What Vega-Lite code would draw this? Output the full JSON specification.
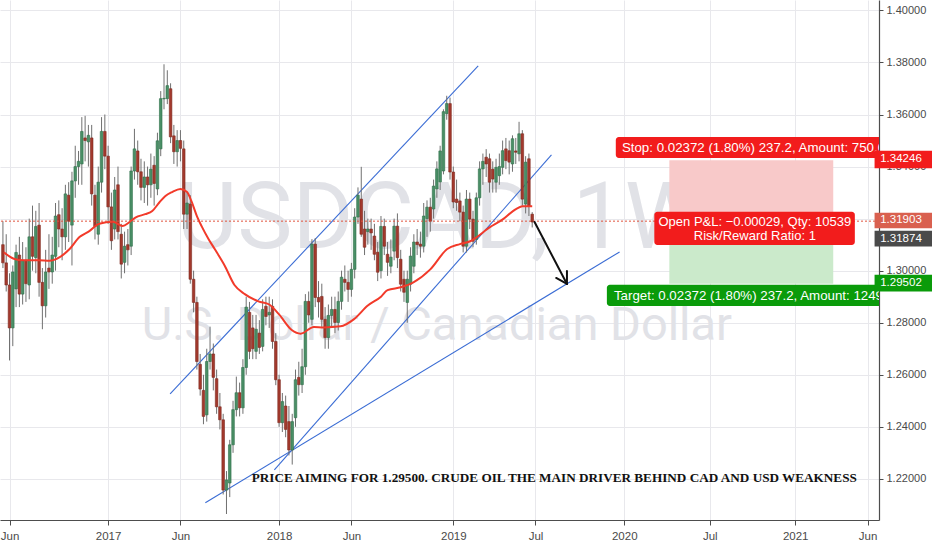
{
"$schema":"https://vega.github.io/schema/vega-lite/v6.json",
"width":879,"height":520,"autosize":"none",
"padding":{"left":0,"top":0,"right":53,"bottom":30},
"background":"white",
"config":{"view":{"stroke":null}},
"datasets":{
"candles":[
{"d":"2016-05-23","o":1.3100,"h":1.3190,"l":1.3010,"c":1.3030},
{"d":"2016-05-30","o":1.3030,"h":1.3140,"l":1.2920,"c":1.2945},
{"d":"2016-06-06","o":1.2945,"h":1.2990,"l":1.2655,"c":1.2780},
{"d":"2016-06-13","o":1.2780,"h":1.3020,"l":1.2710,"c":1.2995},
{"d":"2016-06-20","o":1.2930,"h":1.3100,"l":1.2860,"c":1.3070},
{"d":"2016-06-27","o":1.3060,"h":1.3130,"l":1.2860,"c":1.2910},
{"d":"2016-07-04","o":1.2910,"h":1.3110,"l":1.2870,"c":1.3040},
{"d":"2016-07-11","o":1.3040,"h":1.3090,"l":1.2880,"c":1.2950},
{"d":"2016-07-18","o":1.2945,"h":1.3200,"l":1.2890,"c":1.3130},
{"d":"2016-07-25","o":1.3130,"h":1.3250,"l":1.3000,"c":1.3055},
{"d":"2016-08-01","o":1.3050,"h":1.3230,"l":1.2990,"c":1.3170},
{"d":"2016-08-08","o":1.3175,"h":1.3260,"l":1.2900,"c":1.2955},
{"d":"2016-08-15","o":1.2955,"h":1.3010,"l":1.2775,"c":1.2865},
{"d":"2016-08-22","o":1.2865,"h":1.3080,"l":1.2820,"c":1.2995},
{"d":"2016-08-29","o":1.3010,"h":1.3140,"l":1.2930,"c":1.2995},
{"d":"2016-09-05","o":1.2995,"h":1.3130,"l":1.2950,"c":1.3060},
{"d":"2016-09-12","o":1.3055,"h":1.3260,"l":1.3000,"c":1.3210},
{"d":"2016-09-19","o":1.3215,"h":1.3270,"l":1.3090,"c":1.3160},
{"d":"2016-09-26","o":1.3160,"h":1.3240,"l":1.3040,"c":1.3130},
{"d":"2016-10-03","o":1.3130,"h":1.3330,"l":1.3080,"c":1.3295},
{"d":"2016-10-10","o":1.3290,"h":1.3340,"l":1.3110,"c":1.3190},
{"d":"2016-10-17","o":1.3175,"h":1.3380,"l":1.3020,"c":1.3345},
{"d":"2016-10-24","o":1.3345,"h":1.3480,"l":1.3280,"c":1.3400},
{"d":"2016-10-31","o":1.3400,"h":1.3460,"l":1.3330,"c":1.3420},
{"d":"2016-11-07","o":1.3410,"h":1.3590,"l":1.3330,"c":1.3535},
{"d":"2016-11-14","o":1.3510,"h":1.3595,"l":1.3420,"c":1.3500},
{"d":"2016-11-21","o":1.3495,"h":1.3560,"l":1.3400,"c":1.3520},
{"d":"2016-11-28","o":1.3510,"h":1.3560,"l":1.3250,"c":1.3295},
{"d":"2016-12-05","o":1.3290,"h":1.3330,"l":1.3120,"c":1.3170},
{"d":"2016-12-12","o":1.3140,"h":1.3400,"l":1.3100,"c":1.3340},
{"d":"2016-12-19","o":1.3340,"h":1.3590,"l":1.3300,"c":1.3535},
{"d":"2016-12-26","o":1.3535,"h":1.3600,"l":1.3390,"c":1.3440},
{"d":"2017-01-02","o":1.3440,"h":1.3480,"l":1.3180,"c":1.3245},
{"d":"2017-01-09","o":1.3245,"h":1.3300,"l":1.3080,"c":1.3115},
{"d":"2017-01-16","o":1.3160,"h":1.3360,"l":1.3120,"c":1.3310},
{"d":"2017-01-23","o":1.3330,"h":1.3400,"l":1.3120,"c":1.3150},
{"d":"2017-01-30","o":1.3140,"h":1.3180,"l":1.2970,"c":1.3025},
{"d":"2017-02-06","o":1.3032,"h":1.3150,"l":1.2990,"c":1.3094},
{"d":"2017-02-13","o":1.3100,"h":1.3160,"l":1.3020,"c":1.3080},
{"d":"2017-02-20","o":1.3094,"h":1.3400,"l":1.3060,"c":1.3383},
{"d":"2017-02-27","o":1.3383,"h":1.3545,"l":1.3350,"c":1.3468},
{"d":"2017-03-06","o":1.3460,"h":1.3500,"l":1.3330,"c":1.3380},
{"d":"2017-03-13","o":1.3380,"h":1.3430,"l":1.3270,"c":1.3320},
{"d":"2017-03-20","o":1.3320,"h":1.3420,"l":1.3260,"c":1.3360},
{"d":"2017-03-27","o":1.3360,"h":1.3400,"l":1.3250,"c":1.3330},
{"d":"2017-04-03","o":1.3330,"h":1.3450,"l":1.3280,"c":1.3390},
{"d":"2017-04-10","o":1.3405,"h":1.3440,"l":1.3250,"c":1.3335},
{"d":"2017-04-17","o":1.3314,"h":1.3530,"l":1.3290,"c":1.3499},
{"d":"2017-04-24","o":1.3468,"h":1.3690,"l":1.3440,"c":1.3661},
{"d":"2017-05-01","o":1.3660,"h":1.3793,"l":1.3620,"c":1.3662},
{"d":"2017-05-08","o":1.3661,"h":1.3770,"l":1.3640,"c":1.3711},
{"d":"2017-05-15","o":1.3699,"h":1.3720,"l":1.3490,"c":1.3514},
{"d":"2017-05-22","o":1.3518,"h":1.3560,"l":1.3410,"c":1.3457},
{"d":"2017-05-29","o":1.3457,"h":1.3540,"l":1.3400,"c":1.3500},
{"d":"2017-06-05","o":1.3500,"h":1.3540,"l":1.3420,"c":1.3470},
{"d":"2017-06-12","o":1.3468,"h":1.3500,"l":1.3160,"c":1.3217},
{"d":"2017-06-19","o":1.3217,"h":1.3300,"l":1.3160,"c":1.3260},
{"d":"2017-06-26","o":1.3256,"h":1.3290,"l":1.2950,"c":1.2967},
{"d":"2017-07-03","o":1.2967,"h":1.3000,"l":1.2840,"c":1.2878},
{"d":"2017-07-10","o":1.2878,"h":1.2900,"l":1.2620,"c":1.2651},
{"d":"2017-07-17","o":1.2640,"h":1.2680,"l":1.2520,"c":1.2545},
{"d":"2017-07-24","o":1.2540,"h":1.2600,"l":1.2410,"c":1.2440},
{"d":"2017-07-31","o":1.2446,"h":1.2700,"l":1.2420,"c":1.2651},
{"d":"2017-08-07","o":1.2651,"h":1.2785,"l":1.2620,"c":1.2680},
{"d":"2017-08-14","o":1.2680,"h":1.2720,"l":1.2540,"c":1.2590},
{"d":"2017-08-21","o":1.2585,"h":1.2620,"l":1.2450,"c":1.2477},
{"d":"2017-08-28","o":1.2477,"h":1.2530,"l":1.2390,"c":1.2427},
{"d":"2017-09-04","o":1.2427,"h":1.2450,"l":1.2140,"c":1.2157},
{"d":"2017-09-11","o":1.2157,"h":1.2230,"l":1.2065,"c":1.2196},
{"d":"2017-09-18","o":1.2184,"h":1.2350,"l":1.2130,"c":1.2331},
{"d":"2017-09-25","o":1.2331,"h":1.2500,"l":1.2300,"c":1.2466},
{"d":"2017-10-02","o":1.2466,"h":1.2593,"l":1.2440,"c":1.2531},
{"d":"2017-10-09","o":1.2531,"h":1.2570,"l":1.2440,"c":1.2473},
{"d":"2017-10-16","o":1.2473,"h":1.2660,"l":1.2450,"c":1.2628},
{"d":"2017-10-23","o":1.2628,"h":1.2900,"l":1.2600,"c":1.2860},
{"d":"2017-10-30","o":1.2840,"h":1.2880,"l":1.2660,"c":1.2690},
{"d":"2017-11-06","o":1.2780,"h":1.2830,"l":1.2660,"c":1.2700},
{"d":"2017-11-13","o":1.2690,"h":1.2830,"l":1.2660,"c":1.2775},
{"d":"2017-11-20","o":1.2760,"h":1.2810,"l":1.2680,"c":1.2705},
{"d":"2017-11-27","o":1.2709,"h":1.2890,"l":1.2690,"c":1.2851},
{"d":"2017-12-04","o":1.2863,"h":1.2900,"l":1.2790,"c":1.2824},
{"d":"2017-12-11","o":1.2830,"h":1.2900,"l":1.2780,"c":1.2840},
{"d":"2017-12-18","o":1.2863,"h":1.2890,"l":1.2700,"c":1.2728},
{"d":"2017-12-25","o":1.2728,"h":1.2760,"l":1.2560,"c":1.2581},
{"d":"2018-01-01","o":1.2581,"h":1.2600,"l":1.2400,"c":1.2416},
{"d":"2018-01-08","o":1.2416,"h":1.2530,"l":1.2380,"c":1.2497},
{"d":"2018-01-15","o":1.2480,"h":1.2520,"l":1.2360,"c":1.2390},
{"d":"2018-01-22","o":1.2420,"h":1.2480,"l":1.2290,"c":1.2311},
{"d":"2018-01-29","o":1.2311,"h":1.2450,"l":1.2255,"c":1.2420},
{"d":"2018-02-05","o":1.2435,"h":1.2620,"l":1.2400,"c":1.2581},
{"d":"2018-02-12","o":1.2590,"h":1.2650,"l":1.2520,"c":1.2562},
{"d":"2018-02-19","o":1.2562,"h":1.2700,"l":1.2530,"c":1.2631},
{"d":"2018-02-26","o":1.2631,"h":1.2910,"l":1.2600,"c":1.2882},
{"d":"2018-03-05","o":1.2882,"h":1.2920,"l":1.2800,"c":1.2830},
{"d":"2018-03-12","o":1.2813,"h":1.3121,"l":1.2790,"c":1.3102},
{"d":"2018-03-19","o":1.3102,"h":1.3125,"l":1.2860,"c":1.2897},
{"d":"2018-03-26","o":1.2897,"h":1.2960,"l":1.2820,"c":1.2880},
{"d":"2018-04-02","o":1.2901,"h":1.2950,"l":1.2780,"c":1.2813},
{"d":"2018-04-09","o":1.2813,"h":1.2860,"l":1.2700,"c":1.2743},
{"d":"2018-04-16","o":1.2743,"h":1.2870,"l":1.2700,"c":1.2828},
{"d":"2018-04-23","o":1.2828,"h":1.2900,"l":1.2780,"c":1.2851},
{"d":"2018-04-30","o":1.2851,"h":1.2900,"l":1.2760,"c":1.2801},
{"d":"2018-05-07","o":1.2801,"h":1.2920,"l":1.2770,"c":1.2882},
{"d":"2018-05-14","o":1.2882,"h":1.3000,"l":1.2850,"c":1.2975},
{"d":"2018-05-21","o":1.2967,"h":1.3020,"l":1.2920,"c":1.2955},
{"d":"2018-05-28","o":1.2955,"h":1.3000,"l":1.2880,"c":1.2928},
{"d":"2018-06-04","o":1.2928,"h":1.3030,"l":1.2900,"c":1.3005},
{"d":"2018-06-11","o":1.3005,"h":1.3240,"l":1.2970,"c":1.3206},
{"d":"2018-06-18","o":1.3206,"h":1.3320,"l":1.3180,"c":1.3290},
{"d":"2018-06-25","o":1.3275,"h":1.3399,"l":1.3130,"c":1.3140},
{"d":"2018-07-02","o":1.3160,"h":1.3230,"l":1.3060,"c":1.3090},
{"d":"2018-07-09","o":1.3150,"h":1.3200,"l":1.3100,"c":1.3160},
{"d":"2018-07-16","o":1.3160,"h":1.3200,"l":1.3080,"c":1.3145},
{"d":"2018-07-23","o":1.3133,"h":1.3180,"l":1.3040,"c":1.3063},
{"d":"2018-07-30","o":1.3071,"h":1.3110,"l":1.2960,"c":1.2994},
{"d":"2018-08-06","o":1.3000,"h":1.3210,"l":1.2970,"c":1.3170},
{"d":"2018-08-13","o":1.3170,"h":1.3200,"l":1.3060,"c":1.3094},
{"d":"2018-08-20","o":1.3063,"h":1.3110,"l":1.2980,"c":1.3032},
{"d":"2018-08-27","o":1.3017,"h":1.3120,"l":1.2990,"c":1.3052},
{"d":"2018-09-03","o":1.3075,"h":1.3200,"l":1.3040,"c":1.3171},
{"d":"2018-09-10","o":1.3171,"h":1.3220,"l":1.3010,"c":1.3050},
{"d":"2018-09-17","o":1.3044,"h":1.3080,"l":1.2920,"c":1.2948},
{"d":"2018-09-24","o":1.2967,"h":1.3000,"l":1.2880,"c":1.2917},
{"d":"2018-10-01","o":1.2878,"h":1.3000,"l":1.2800,"c":1.2967},
{"d":"2018-10-08","o":1.2948,"h":1.3090,"l":1.2920,"c":1.3056},
{"d":"2018-10-15","o":1.3017,"h":1.3140,"l":1.2990,"c":1.3110},
{"d":"2018-10-22","o":1.3110,"h":1.3160,"l":1.3060,"c":1.3100},
{"d":"2018-10-29","o":1.3102,"h":1.3150,"l":1.3050,"c":1.3094},
{"d":"2018-11-05","o":1.3094,"h":1.3260,"l":1.3070,"c":1.3210},
{"d":"2018-11-12","o":1.3200,"h":1.3270,"l":1.3130,"c":1.3244},
{"d":"2018-11-19","o":1.3244,"h":1.3280,"l":1.3150,"c":1.3190},
{"d":"2018-11-26","o":1.3237,"h":1.3350,"l":1.3200,"c":1.3325},
{"d":"2018-12-03","o":1.3314,"h":1.3420,"l":1.3280,"c":1.3391},
{"d":"2018-12-10","o":1.3341,"h":1.3480,"l":1.3310,"c":1.3460},
{"d":"2018-12-17","o":1.3383,"h":1.3620,"l":1.3370,"c":1.3611},
{"d":"2018-12-24","o":1.3603,"h":1.3672,"l":1.3580,"c":1.3642},
{"d":"2018-12-31","o":1.3642,"h":1.3665,"l":1.3350,"c":1.3379},
{"d":"2019-01-07","o":1.3379,"h":1.3400,"l":1.3240,"c":1.3264},
{"d":"2019-01-14","o":1.3275,"h":1.3350,"l":1.3230,"c":1.3262},
{"d":"2019-01-21","o":1.3268,"h":1.3300,"l":1.3190,"c":1.3225},
{"d":"2019-01-28","o":1.3225,"h":1.3250,"l":1.3070,"c":1.3094},
{"d":"2019-02-04","o":1.3094,"h":1.3310,"l":1.3070,"c":1.3275},
{"d":"2019-02-11","o":1.3275,"h":1.3300,"l":1.3160,"c":1.3198},
{"d":"2019-02-18","o":1.3198,"h":1.3230,"l":1.3090,"c":1.3113},
{"d":"2019-02-25","o":1.3120,"h":1.3300,"l":1.3100,"c":1.3280},
{"d":"2019-03-04","o":1.3280,"h":1.3420,"l":1.3250,"c":1.3391},
{"d":"2019-03-11","o":1.3391,"h":1.3450,"l":1.3330,"c":1.3420},
{"d":"2019-03-18","o":1.3436,"h":1.3467,"l":1.3360,"c":1.3410},
{"d":"2019-03-25","o":1.3430,"h":1.3450,"l":1.3300,"c":1.3340},
{"d":"2019-04-01","o":1.3390,"h":1.3420,"l":1.3300,"c":1.3352},
{"d":"2019-04-08","o":1.3340,"h":1.3430,"l":1.3300,"c":1.3397},
{"d":"2019-04-15","o":1.3365,"h":1.3450,"l":1.3330,"c":1.3400},
{"d":"2019-04-22","o":1.3397,"h":1.3500,"l":1.3370,"c":1.3461},
{"d":"2019-04-29","o":1.3468,"h":1.3510,"l":1.3390,"c":1.3423},
{"d":"2019-05-06","o":1.3461,"h":1.3500,"l":1.3370,"c":1.3417},
{"d":"2019-05-13","o":1.3410,"h":1.3520,"l":1.3380,"c":1.3507},
{"d":"2019-05-20","o":1.3460,"h":1.3510,"l":1.3410,"c":1.3455},
{"d":"2019-05-27","o":1.3449,"h":1.3572,"l":1.3420,"c":1.3526},
{"d":"2019-06-03","o":1.3526,"h":1.3540,"l":1.3250,"c":1.3275},
{"d":"2019-06-10","o":1.3256,"h":1.3440,"l":1.3220,"c":1.3417},
{"d":"2019-06-17","o":1.3430,"h":1.3450,"l":1.3210,"c":1.3248},
{"d":"2019-06-24","o":1.3217,"h":1.3225,"l":1.3166,"c":1.3187}
],
"ma":[
{"d":"2016-05-25","v":1.3071},{"d":"2016-06-15","v":1.3046},{"d":"2016-07-06","v":1.3040},{"d":"2016-08-08","v":1.3040},
{"d":"2016-08-30","v":1.3038},{"d":"2016-09-21","v":1.3052},{"d":"2016-10-12","v":1.3083},{"d":"2016-11-02","v":1.3129},
{"d":"2016-11-23","v":1.3152},{"d":"2016-12-14","v":1.3180},{"d":"2017-01-12","v":1.3188},{"d":"2017-02-02","v":1.3172},
{"d":"2017-02-16","v":1.3186},{"d":"2017-03-01","v":1.3204},{"d":"2017-03-22","v":1.3217},{"d":"2017-04-06","v":1.3229},
{"d":"2017-04-21","v":1.3262},{"d":"2017-05-04","v":1.3287},{"d":"2017-05-18","v":1.3302},{"d":"2017-06-05","v":1.3314},
{"d":"2017-06-19","v":1.3302},{"d":"2017-06-29","v":1.3264},{"d":"2017-07-10","v":1.3210},{"d":"2017-07-20","v":1.3171},
{"d":"2017-08-04","v":1.3121},{"d":"2017-08-17","v":1.3083},{"d":"2017-09-07","v":1.3020},{"d":"2017-09-28","v":1.2945},
{"d":"2017-10-20","v":1.2910},{"d":"2017-11-18","v":1.2882},{"d":"2017-12-11","v":1.2870},{"d":"2018-01-01","v":1.2832},
{"d":"2018-01-28","v":1.2772},{"d":"2018-02-16","v":1.2758},{"d":"2018-03-16","v":1.2784},{"d":"2018-04-06","v":1.2782},
{"d":"2018-05-12","v":1.2786},{"d":"2018-06-09","v":1.2813},{"d":"2018-07-09","v":1.2866},{"d":"2018-08-06","v":1.2900},
{"d":"2018-08-20","v":1.2925},{"d":"2018-09-17","v":1.2936},{"d":"2018-10-14","v":1.2955},{"d":"2018-11-19","v":1.3005},
{"d":"2018-12-25","v":1.3083},{"d":"2019-01-21","v":1.3102},{"d":"2019-02-12","v":1.3113},{"d":"2019-03-26","v":1.3167},
{"d":"2019-04-23","v":1.3198},{"d":"2019-05-14","v":1.3229},{"d":"2019-06-04","v":1.3248},{"d":"2019-06-24","v":1.3248}
],
"trend":[
{"x1":"2017-05-14","y1":1.2527,"x2":"2019-03-01","y2":1.3787},
{"x1":"2017-12-22","y1":1.2235,"x2":"2019-08-04","y2":1.3445},
{"x1":"2017-07-28","y1":1.2108,"x2":"2019-12-27","y2":1.3072}
],
"arrow":[
{"x1":"2019-06-29","y1":1.3187,"x2":"2019-09-06","y2":1.2949},
{"x1":"2019-09-06","y1":1.2999,"x2":"2019-09-06","y2":1.2949},
{"x1":"2019-08-14","y1":1.2972,"x2":"2019-09-06","y2":1.2949}
],
"zones":[
{"x1":"2020-04-11","x2":"2021-03-26","y1":1.31903,"y2":1.34246,"kind":"stop"},
{"x1":"2020-04-11","x2":"2021-03-26","y1":1.29502,"y2":1.31903,"kind":"target"}
],
"boxes":[
{"x1":"2019-12-19","x2":"2021-08-01","y1":1.3433,"y2":1.3514,"kind":"stop"},
{"x1":"2020-03-10","x2":"2021-05-11","y1":1.3099,"y2":1.3226,"kind":"pnl"},
{"x1":"2019-11-30","x2":"2021-08-01","y1":1.2864,"y2":1.2946,"kind":"target"}
],
"lefttexts":[
{"d":"2020-01-01","p":1.3473,"t":"Stop: 0.02372 (1.80%) 237.2, Amount: 750.00"},
{"d":"2019-12-15","p":1.2904,"t":"Target: 0.02372 (1.80%) 237.2, Amount: 1249.90"}
],
"pnltexts":[
{"d":"2020-10-10","p":1.3188,"t":"Open P&L: −0.00029, Qty: 10539"},
{"d":"2020-10-10","p":1.3134,"t":"Risk/Reward Ratio: 1"}
],
"tags":[
{"x1":"2021-06-22","x2":"2021-11-01","y1":1.3394,"y2":1.3461,"kind":"stop","d":"2021-07-04","p":1.3428,"t":"1.34246"},
{"x1":"2021-06-22","x2":"2021-11-01","y1":1.3163,"y2":1.3223,"kind":"entry","d":"2021-07-04","p":1.3193,"t":"1.31903"},
{"x1":"2021-06-22","x2":"2021-11-01","y1":1.3093,"y2":1.3153,"kind":"last","d":"2021-07-04","p":1.3122,"t":"1.31874"},
{"x1":"2021-06-22","x2":"2021-11-01","y1":1.2920,"y2":1.2984,"kind":"target","d":"2021-07-04","p":1.2952,"t":"1.29502"}
]
},
"layer":[
{"data":{"values":[{"d":"2018-12-14","p":1.3088,"t":"USDCAD, 1W"}]},
 "mark":{"type":"text","font":"Roboto","fontSize":93,"color":"#e1e2e7","align":"center","baseline":"alphabetic"},
 "encoding":{
  "x":{"field":"d","type":"temporal","title":null,
   "scale":{"type":"utc","domain":[{"year":2016,"month":5,"date":27,"hours":10,"utc":true},{"year":2021,"month":6,"date":20,"hours":19,"utc":true}]},
   "axis":{"title":null,"values":[
     {"year":2016,"month":6,"date":6,"utc":true},{"year":2017,"month":1,"date":2,"utc":true},{"year":2017,"month":6,"date":5,"utc":true},
     {"year":2018,"month":1,"date":1,"utc":true},{"year":2018,"month":6,"date":4,"utc":true},{"year":2019,"month":1,"date":7,"utc":true},
     {"year":2019,"month":7,"date":1,"utc":true},{"year":2020,"month":1,"date":6,"utc":true},{"year":2020,"month":7,"date":6,"utc":true},
     {"year":2021,"month":1,"date":4,"utc":true},{"year":2021,"month":6,"date":7,"utc":true}],
    "labelExpr":"utcFormat(datum.value,'%m')=='01' ? utcFormat(datum.value,'%Y') : utcFormat(datum.value,'%b')",
    "grid":true,"gridColor":"#e8e8ec","gridWidth":1,"domainColor":"#4d4d4d","domainWidth":1.2,"tickColor":"#4d4d4d","tickSize":5,
    "labelColor":"#4a4a4a","labelFont":"Liberation Sans","labelFontSize":11.5,"labelPadding":5,"labelOverlap":false,"labelFlush":false}},
  "y":{"field":"p","type":"quantitative","title":null,
   "scale":{"domain":[1.2042,1.4040],"nice":false,"zero":false},
   "axis":{"title":null,"orient":"right","values":[1.22,1.24,1.26,1.28,1.30,1.32,1.34,1.36,1.38,1.40],"format":".5f",
    "grid":true,"gridColor":"#e8e8ec","gridWidth":1,"domainColor":"#4d4d4d","domainWidth":1.2,"tickColor":"#4d4d4d","tickSize":4,
    "labelColor":"#4a4a4a","labelFont":"Liberation Sans","labelFontSize":11,"labelPadding":3,"labelOverlap":false,"labelFlush":false}},
  "text":{"field":"t"}}},
{"data":{"values":[{"d":"2018-12-03","p":1.2734,"t":"U.S. Dollar / Canadian Dollar"}]},
 "mark":{"type":"text","font":"Roboto","fontSize":47,"color":"#e1e2e7","align":"center","baseline":"alphabetic"},
 "encoding":{"x":{"field":"d","type":"temporal","title":null},"y":{"field":"p","type":"quantitative","title":null},"text":{"field":"t"}}},
{"data":{"name":"zones"},
 "mark":{"type":"rect","clip":true},
 "encoding":{"x":{"field":"x1","type":"temporal","title":null},"x2":{"field":"x2"},"y":{"field":"y1","type":"quantitative","title":null},"y2":{"field":"y2"},
  "color":{"condition":{"test":"datum.kind=='stop'","value":"#f8c9c9"},"value":"#cbeacb"}}},
{"data":{"name":"trend"},
 "mark":{"type":"rule","color":"#3a6cd4","strokeWidth":1.1,"clip":true},
 "encoding":{"x":{"field":"x1","type":"temporal","title":null},"x2":{"field":"x2"},"y":{"field":"y1","type":"quantitative","title":null},"y2":{"field":"y2"}}},
{"data":{"name":"candles"},
 "mark":{"type":"rule","color":"#707070","strokeWidth":1,"clip":true},
 "encoding":{"x":{"field":"d","type":"temporal","title":null},"y":{"field":"l","type":"quantitative","title":null},"y2":{"field":"h"}}},
{"data":{"name":"candles"},
 "mark":{"type":"bar","size":2.6,"strokeWidth":0.6,"clip":true},
 "encoding":{"x":{"field":"d","type":"temporal","title":null},"y":{"field":"o","type":"quantitative","title":null},"y2":{"field":"c"},
  "color":{"condition":{"test":"datum.c >= datum.o","value":"#4a8f66"},"value":"#a3392d"},
  "stroke":{"condition":{"test":"datum.c >= datum.o","value":"#2f6e4a"},"value":"#7d2a20"}}},
{"data":{"name":"ma"},
 "mark":{"type":"line","color":"#f23a2a","strokeWidth":2,"interpolate":"monotone","clip":true},
 "encoding":{"x":{"field":"d","type":"temporal","title":null},"y":{"field":"v","type":"quantitative","title":null}}},
{"data":{"values":[{"p":1.31903}]},
 "mark":{"type":"rule","color":"#e0513c","strokeDash":[2,2],"strokeWidth":1},
 "encoding":{"y":{"field":"p","type":"quantitative","title":null}}},
{"data":{"name":"arrow"},
 "mark":{"type":"rule","color":"#111111","strokeWidth":2,"strokeCap":"round","clip":true},
 "encoding":{"x":{"field":"x1","type":"temporal","title":null},"x2":{"field":"x2"},"y":{"field":"y1","type":"quantitative","title":null},"y2":{"field":"y2"}}},
{"data":{"name":"boxes"},
 "mark":{"type":"rect","cornerRadius":3,"clip":true},
 "encoding":{"x":{"field":"x1","type":"temporal","title":null},"x2":{"field":"x2"},"y":{"field":"y1","type":"quantitative","title":null},"y2":{"field":"y2"},
  "color":{"condition":{"test":"datum.kind=='target'","value":"#0a9b0a"},"value":"#f21c1c"}}},
{"data":{"name":"lefttexts"},
 "mark":{"type":"text","font":"Liberation Sans","fontSize":13.3,"color":"white","align":"left","baseline":"middle","clip":true},
 "encoding":{"x":{"field":"d","type":"temporal","title":null},"y":{"field":"p","type":"quantitative","title":null},"text":{"field":"t"}}},
{"data":{"name":"pnltexts"},
 "mark":{"type":"text","font":"Liberation Sans","fontSize":13,"color":"white","align":"center","baseline":"middle","clip":true},
 "encoding":{"x":{"field":"d","type":"temporal","title":null},"y":{"field":"p","type":"quantitative","title":null},"text":{"field":"t"}}},
{"data":{"values":[{"d":"2019-08-10","p":1.2189,"t":"PRICE AIMING FOR 1.29500. CRUDE OIL THE MAIN DRIVER BEHIND CAD AND USD WEAKNESS"}]},
 "mark":{"type":"text","font":"Liberation Serif","fontWeight":"bold","fontSize":13.2,"color":"#111111","align":"center","baseline":"alphabetic"},
 "encoding":{"x":{"field":"d","type":"temporal","title":null},"y":{"field":"p","type":"quantitative","title":null},"text":{"field":"t"}}},
{"data":{"name":"tags"},
 "mark":{"type":"rect"},
 "encoding":{"x":{"field":"x1","type":"temporal","title":null},"x2":{"field":"x2"},"y":{"field":"y1","type":"quantitative","title":null},"y2":{"field":"y2"},
  "color":{"condition":[{"test":"datum.kind=='stop'","value":"#f21c1c"},{"test":"datum.kind=='entry'","value":"#d9604f"},{"test":"datum.kind=='last'","value":"#4a4a4a"}],"value":"#0a9b0a"}}},
{"data":{"name":"tags"},
 "mark":{"type":"text","font":"Liberation Sans","fontSize":11.5,"color":"white","align":"left","baseline":"middle"},
 "encoding":{"x":{"field":"d","type":"temporal","title":null},"y":{"field":"p","type":"quantitative","title":null},"text":{"field":"t"}}}
]
}
